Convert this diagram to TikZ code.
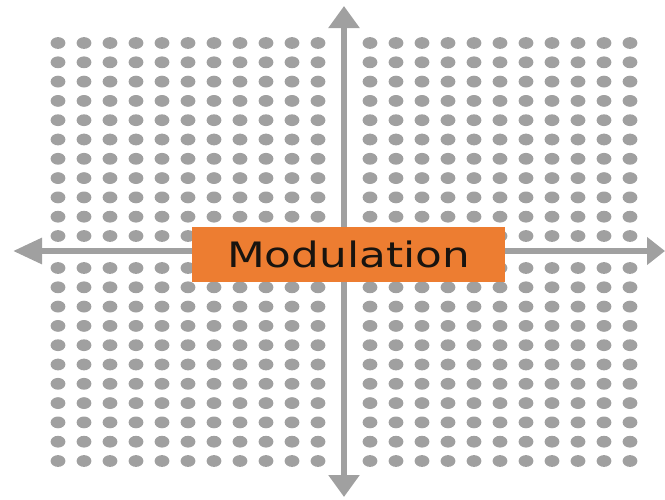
\documentclass[tikz,border=0pt]{standalone}
\usepackage{fontspec}
\setmainfont{DejaVu Sans}
\usetikzlibrary{arrows.meta}
\definecolor{dotgray}{RGB}{160,160,160}
\definecolor{axisgray}{RGB}{160,160,160}
\definecolor{boxorange}{RGB}{237,125,49}
\definecolor{txt}{RGB}{25,20,15}
\tikzset{
  dot/.style={fill=dotgray, draw=none},
  axisline/.style={draw=axisgray, line width=6pt},
  label box/.style={fill=boxorange, draw=none, minimum width=313pt, minimum height=55pt, inner sep=0pt, text=txt, font=\fontsize{35}{40}\selectfont}
}
\begin{document}
\begin{tikzpicture}[x=1pt,y=-1pt]
\useasboundingbox (0,0) rectangle (665,499);
% dot grid
\foreach \k in {0,...,22}{
  \ifnum\k=11\relax\else
    \foreach \j in {0,...,10}{
      \fill[dot] ({58+26*\k},{43+19.3*\j}) ellipse [x radius=7.4pt, y radius=5.9pt];
      \fill[dot] ({58+26*\k},{268+19.3*\j}) ellipse [x radius=7.4pt, y radius=5.9pt];
    }
  \fi
}
% axes
\coordinate (hc) at (344,251);
\coordinate (left) at (13,251);
\coordinate (right) at (665,251);
\coordinate (top) at (344,6);
\coordinate (bottom) at (344,497);
\draw[axisline, -{Triangle[length=29pt, width=25pt]}] (hc) -- (left);
\draw[axisline, -{Triangle[length=18pt, width=27pt]}] (hc) -- (right);
\draw[axisline, -{Triangle[length=22pt, width=30pt]}] (hc) -- (top);
\draw[axisline, -{Triangle[length=22pt, width=30pt]}] (hc) -- (bottom);
% label
\node[label box] (mod) at (348.5,254.5) {\scalebox{1.25}[1]{Modulation}};
\end{tikzpicture}
\end{document}
